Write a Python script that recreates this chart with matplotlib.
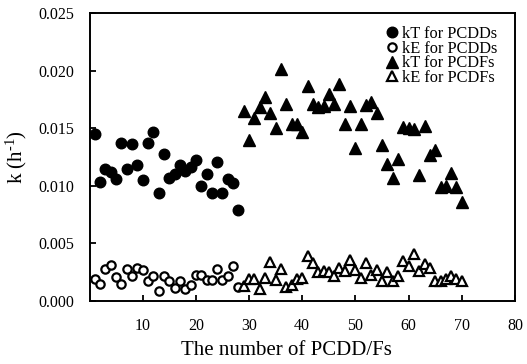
import matplotlib
matplotlib.use("Agg")
import matplotlib.pyplot as plt
import numpy as np

plt.rcParams['font.family'] = ['Liberation Serif', 'DejaVu Serif']
plt.rcParams['mathtext.fontset'] = 'custom'
plt.rcParams['mathtext.rm'] = 'Liberation Serif'
plt.rcParams['mathtext.it'] = 'Liberation Serif:italic'

# PCDDs: congeners 1..28
pcdd_x = list(range(1, 29))
pcdd_kT = [0.0145, 0.0103, 0.0115, 0.0112, 0.0106, 0.0137, 0.0115, 0.0136, 0.0118, 0.0105,
           0.0137, 0.0147, 0.0094, 0.0128, 0.0107, 0.0110, 0.0118, 0.0113, 0.0116, 0.0122,
           0.0100, 0.0110, 0.0094, 0.0121, 0.0094, 0.0106, 0.0102, 0.0079]
pcdd_kE = [0.0019, 0.0015, 0.0028, 0.0031, 0.0021, 0.0015, 0.0028, 0.0022, 0.0029, 0.0027,
           0.0017, 0.0022, 0.0009, 0.0022, 0.0017, 0.0011, 0.0017, 0.0010, 0.0014, 0.0023,
           0.0023, 0.0018, 0.0018, 0.0028, 0.0018, 0.0022, 0.0030, 0.0012]

# PCDFs: congeners 29..70
pcdf_x = list(range(29, 71))
pcdf_kT = [0.0165, 0.0140, 0.0159, 0.0168, 0.0177, 0.0163, 0.0150, 0.0201, 0.0171, 0.0154,
           0.0154, 0.0147, 0.0187, 0.0171, 0.0168, 0.0169, 0.0180, 0.0171, 0.0188, 0.0154,
           0.0169, 0.0133, 0.0154, 0.0170, 0.0173, 0.0163, 0.0135, 0.0119, 0.0107, 0.0123,
           0.0151, 0.0150, 0.0149, 0.0109, 0.0152, 0.0127, 0.0131, 0.0099, 0.0100, 0.0111,
           0.0099, 0.0086]
pcdf_kE = [0.0013, 0.0019, 0.0019, 0.0010, 0.0020, 0.0034, 0.0018, 0.0028, 0.00125, 0.0014,
           0.0019, 0.0020, 0.0039, 0.0033, 0.0025, 0.0026, 0.0025, 0.0022, 0.0029, 0.0026,
           0.0036, 0.0027, 0.0020, 0.0033, 0.0023, 0.0027, 0.0017, 0.0025, 0.0017, 0.0022,
           0.0035, 0.0030, 0.0041, 0.0026, 0.0032, 0.0029, 0.0017, 0.0017, 0.0019, 0.0022,
           0.0019, 0.0017]

x_ticks = [10, 20, 30, 40, 50, 60, 70, 80]
y_ticks = [0.000, 0.005, 0.010, 0.015, 0.020, 0.025]

fig = plt.figure(figsize=(5.27, 3.64), dpi=100)
ax = fig.add_axes([89.5/527, 1-301/364, (515-89.5)/527, (301-13)/364])

ax.plot(pcdd_x, pcdd_kT, 'o', color='black', markersize=7.6, linestyle='none', label='kT for PCDDs')
ax.plot(pcdd_x, pcdd_kE, 'o', markerfacecolor='white', markeredgecolor='black', markeredgewidth=1.6,
        markersize=6.0, linestyle='none', label='kE for PCDDs')
ax.plot(pcdf_x, pcdf_kT, '^', color='black', markersize=8.2, linestyle='none', label='kT for PCDFs')
ax.plot(pcdf_x, pcdf_kE, '^', markerfacecolor='white', markeredgecolor='black', markeredgewidth=1.6,
        markersize=6.8, linestyle='none', label='kE for PCDFs')

ax.set_xlim(0, 80)
ax.set_ylim(0, 0.025)
ax.set_xticks(x_ticks)
ax.set_yticks(y_ticks)
ax.set_yticklabels([f"{v:.3f}" for v in y_ticks])
ax.tick_params(direction='in', length=4, width=1.3, labelsize=11.5)
ax.tick_params(axis='y', pad=11)
ax.tick_params(axis='x', pad=12)
for s in ax.spines.values():
    s.set_linewidth(1.4)

ax.set_xlabel('The number of PCDD/Fs', fontsize=15)
ax.xaxis.set_label_coords(0.464, -0.14)
ax.set_ylabel('k (h$^{\\mathregular{\\text{-}1}}$)', fontsize=15)
ax.yaxis.set_label_coords(-0.143, 0.5)

ax.legend(loc='upper left', bbox_to_anchor=(386/527, 1-26/364), bbox_transform=fig.transFigure,
          frameon=False, fontsize=11.8, handlelength=0.75, handletextpad=0.2,
          labelspacing=-0.08, borderpad=0, borderaxespad=0)

fig.savefig('out.png', dpi=100)
